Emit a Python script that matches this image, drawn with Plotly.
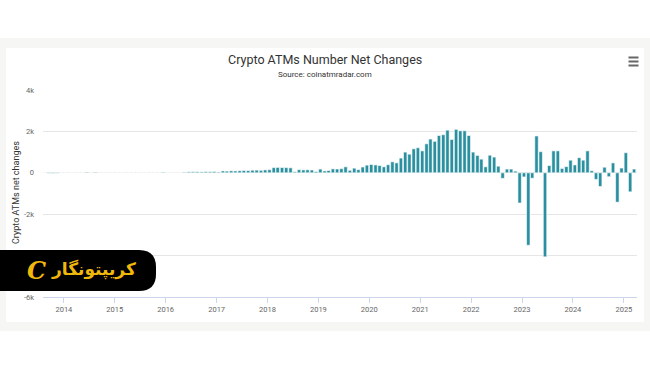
import plotly.graph_objects as go
import pandas as pd

# ---- data (monthly net change in number of crypto ATMs) ----
start_month = "2013-08"
v2013 = [0, -20, -25, -20, 0]  # Aug-Dec
v2014 = [0, 0, 0, 0, 0, 30, 0, 30, 0, 0, 0, 0]
v2015 = [0, 0, 0, 0, 0, 0, 0, 0, 0, 0, 0, 30]
v2016 = [0, 0, 0, 0, 30, 45, 50, 50, 45, 55, 50, 60]
v2017 = [40, 90, 80, 95, 90, 100, 110, 105, 125, 130, 120, 140]
v2018 = [150, 250, 260, 255, 250, 240, 50, 150, 140, 145, 135, 60]
v2019 = [180, 90, 110, 190, 185, 200, 290, 120, 225, 150, 280, 370]
v2020 = [400, 380, 350, 290, 390, 530, 480, 710, 1000, 900, 1160, 1210]
v2021 = [1060, 1400, 1630, 1520, 1800, 1840, 2060, 1610, 2100, 2030, 2030, 1800]
v2022 = [1000, 840, 660, 290, 850, 760, 320, -270, 180, 180, 80, -1460]
v2023 = [-200, -3500, -260, 1780, 1020, -4060, 350, 1060, 1060, 210, 300, 610]
v2024 = [380, 730, 610, 1060, 100, -320, -660, 270, -190, 480, -1420, 230]
v2025 = [970, -920, 180]  # Jan-Mar

values = v2013 + v2014 + v2015 + v2016 + v2017 + v2018 + v2019 + v2020 + v2021 + v2022 + v2023 + v2024 + v2025
months = pd.date_range(start=start_month, periods=len(values), freq="MS") + pd.Timedelta(days=14)

y_tickvals = [-6000, -4000, -2000, 0, 2000, 4000]
y_ticktext = ["-6k", "-4k", "-2k", "0", "2k", "4k"]
x_tickvals = [f"{y}-01-01" for y in range(2014, 2026)]
x_ticktext = [str(y) for y in range(2014, 2026)]

title_text = "Crypto ATMs Number Net Changes"
subtitle_text = "Source: coinatmradar.com"
ytitle_text = "Crypto ATMs net changes"
logo_text = "کریپتونگار"

# ---- layout geometry (pixels) ----
W, H = 650, 365
L, R, T, B = 43, 13, 90, 68
PW, PH = W - L - R, H - T - B


def px(x):
    return (x - L) / PW


def py(y):
    return (H - B - y) / PH


FONT = "Roboto, Liberation Sans, sans-serif"

fig = go.Figure()
fig.add_trace(go.Bar(
    x=months, y=values,
    marker=dict(color="#2a8f9e", line=dict(color="white", width=0.6)),
    hoverinfo="x+y",
))

shapes = []
# outer light frame and inner white card
shapes.append(dict(type="rect", xref="paper", yref="paper", x0=px(0), x1=px(650), y0=py(331), y1=py(38),
                   fillcolor="#f6f6f4", line=dict(width=0), layer="below"))
shapes.append(dict(type="rect", xref="paper", yref="paper", x0=px(6), x1=px(644), y0=py(322), y1=py(48),
                   fillcolor="white", line=dict(width=0), layer="below"))
# hamburger menu icon
for yy in (57.5, 61.5, 65.5):
    shapes.append(dict(type="line", xref="paper", yref="paper", x0=px(628.5), x1=px(638.5), y0=py(yy), y1=py(yy),
                       line=dict(color="#666666", width=2)))

# logo badge (black, rounded right end)
x0, x1, y0, y1, r = 0, 156, 250, 291, 17
path = (f"M {px(x0)},{py(y0)} L {px(x1 - r)},{py(y0)} "
        f"Q {px(x1)},{py(y0)} {px(x1)},{py(y0 + r)} "
        f"L {px(x1)},{py(y1 - r)} Q {px(x1)},{py(y1)} {px(x1 - r)},{py(y1)} "
        f"L {px(x0)},{py(y1)} Z")
shapes.append(dict(type="path", xref="paper", yref="paper", path=path,
                   fillcolor="#000000", line=dict(width=0), layer="above"))

annotations = [
    dict(text=title_text, x=px(325), y=py(59), xref="paper", yref="paper", showarrow=False,
         xanchor="center", yanchor="middle", font=dict(family=FONT, size=12.5, color="#333333")),
    dict(text=subtitle_text, x=px(325), y=py(74.5), xref="paper", yref="paper", showarrow=False,
         xanchor="center", yanchor="middle", font=dict(family=FONT, size=8, color="#333333")),
    dict(text=ytitle_text, x=px(16), y=py(193), xref="paper", yref="paper", showarrow=False,
         textangle=-90, xanchor="center", yanchor="middle", font=dict(family=FONT, size=9, color="#333333")),
    dict(text="<b>" + logo_text + "</b>", x=px(93), y=py(269), xref="paper", yref="paper", showarrow=False,
         xanchor="center", yanchor="middle", font=dict(family="DejaVu Sans", size=17, color="#f1b80c")),
    dict(text="<b><i>C</i></b>", x=px(36), y=py(270), xref="paper", yref="paper", showarrow=False,
         xanchor="center", yanchor="middle", font=dict(family="DejaVu Serif", size=24, color="#f1b80c")),
]

fig.update_layout(
    width=W, height=H,
    margin=dict(l=L, r=R, t=T, b=B),
    paper_bgcolor="white",
    plot_bgcolor="rgba(0,0,0,0)",
    showlegend=False,
    bargap=0.12,
    shapes=shapes,
    annotations=annotations,
    xaxis=dict(
        type="date",
        range=["2013-08-04", "2025-04-05"],
        tickvals=x_tickvals, ticktext=x_ticktext,
        showgrid=False, zeroline=False,
        showline=True, linecolor="#ccd6eb", linewidth=1,
        ticks="outside", ticklen=5, tickcolor="#ccd6eb",
        tickfont=dict(family=FONT, size=7.5, color="#666666"),
    ),
    yaxis=dict(
        range=[-6000, 4000],
        tickvals=y_tickvals, ticktext=y_ticktext,
        showgrid=True, gridcolor="#e6e6e6", gridwidth=1,
        zeroline=True, zerolinecolor="#e6e6e6", zerolinewidth=1,
        ticks="", ticklabelstandoff=8,
        tickfont=dict(family=FONT, size=7.5, color="#666666"),
    ),
)

fig.write_html("out.html", config={"displayModeBar": False},
               post_script="document.body.style.margin='0';")
